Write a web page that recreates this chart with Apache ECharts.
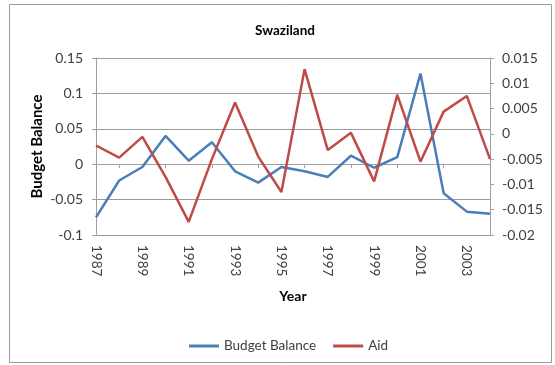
<!DOCTYPE html>
<html><head><meta charset="utf-8">
<script src="https://cdn.jsdelivr.net/npm/echarts@6/dist/echarts.min.js"></script>
<style>html,body{margin:0;padding:0;background:#fff}#c{width:555px;height:365px}</style>
</head><body><div id="c"></div>
<script>
var years = ['1987','1988','1989','1990','1991','1992','1993','1994','1995','1996','1997','1998','1999','2000','2001','2002','2003','2004'];
var budgetBalance = [-0.075,-0.023,-0.004,0.040,0.005,0.031,-0.010,-0.026,-0.004,-0.010,-0.018,0.012,-0.005,0.010,0.128,-0.041,-0.067,-0.070];
var aid = [-0.0023,-0.0047,-0.0006,-0.0085,-0.0174,-0.0050,0.0062,-0.0045,-0.0115,0.0128,-0.0032,0.0002,-0.0094,0.0077,-0.0055,0.0044,0.0075,-0.0050];
var leftTicks = {min:-0.1, max:0.15, interval:0.05};
var rightTicks = {min:-0.02, max:0.015, interval:0.005};

var font = 'Lato, "Noto Sans", sans-serif';
var chart = echarts.init(document.getElementById('c'));
chart.setOption({
  animation:false,
  textStyle:{fontFamily:font},
  graphic:[{type:'rect',shape:{x:9.5,y:4.5,width:542,height:358},style:{fill:'none',stroke:'#9a9a9a',lineWidth:1}}],
  title:{text:'Swaziland',left:280,textAlign:'center',top:19,textStyle:{fontFamily:font,fontSize:13.5,fontWeight:'bold',color:'#000'}},
  grid:{left:96,right:65,top:58,bottom:130},
  legend:{top:334,left:184,itemWidth:30,itemHeight:3,itemGap:17,icon:'rect',
    textStyle:{fontFamily:font,fontSize:13.5,color:'#404040'},data:['Budget Balance','Aid']},
  xAxis:{type:'category',data:years,boundaryGap:false,
    name:'Year',nameLocation:'middle',nameGap:54,nameTextStyle:{fontFamily:font,fontSize:14,fontWeight:'bold',color:'#000'},
    axisLine:{lineStyle:{color:'#a0a0a0'}},
    axisTick:{show:true,interval:function(i){return i%2===1;},length:4,lineStyle:{color:'#a0a0a0'}},
    axisLabel:{interval:1,rotate:-90,fontSize:13.5,color:'#404040',fontFamily:font,margin:10},
    splitLine:{show:false}},
  yAxis:[{type:'value',min:leftTicks.min,max:leftTicks.max,interval:leftTicks.interval,position:'left',
    name:'Budget Balance',nameLocation:'middle',nameGap:51,nameRotate:90,nameMoveOverlap:false,
    nameTextStyle:{fontFamily:font,fontSize:15,fontWeight:'bold',color:'#000'},
    axisLine:{show:true,lineStyle:{color:'#a0a0a0'}},axisTick:{show:true,length:4,lineStyle:{color:'#a0a0a0'}},
    axisLabel:{fontSize:14,color:'#404040',fontFamily:font,margin:13,formatter:function(v){return String(+v.toFixed(3));}},
    splitLine:{show:true,lineStyle:{color:'#9a9a9a'}}},
   {type:'value',min:rightTicks.min,max:rightTicks.max,interval:rightTicks.interval,position:'right',
    axisLine:{show:true,lineStyle:{color:'#a0a0a0'}},axisTick:{show:true,length:4,lineStyle:{color:'#a0a0a0'}},
    axisLabel:{fontSize:14,color:'#404040',fontFamily:font,margin:12,formatter:function(v){return String(+v.toFixed(3));}},
    splitLine:{show:false}}],
  series:[
    {name:'Budget Balance',type:'line',data:budgetBalance,yAxisIndex:0,showSymbol:false,symbol:'none',
     lineStyle:{color:'#4a7ebb',width:2.5},itemStyle:{color:'#4a7ebb'}},
    {name:'Aid',type:'line',data:aid,yAxisIndex:1,showSymbol:false,symbol:'none',
     lineStyle:{color:'#be4b48',width:2.5},itemStyle:{color:'#be4b48'}}
  ]
});
</script></body></html>
